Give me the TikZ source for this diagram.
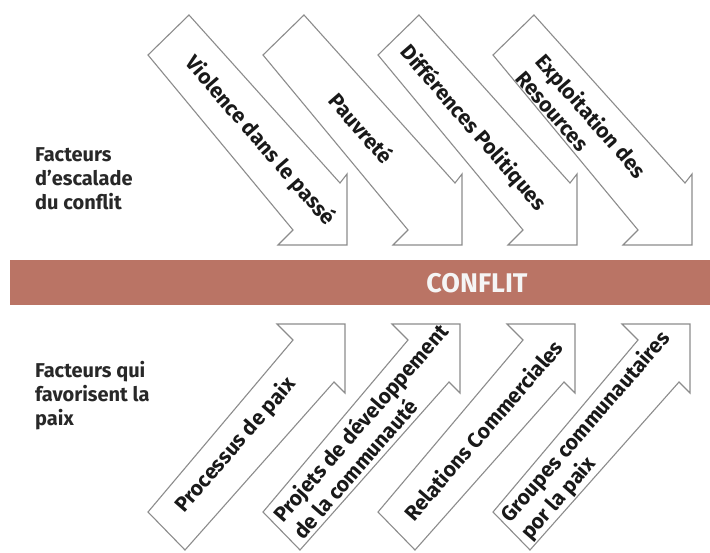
\documentclass[tikz,border=0pt]{standalone}
\usepackage{fontspec}
\setmainfont{Fira Sans}
\definecolor{conflitband}{RGB}{186,116,101}
\definecolor{arrowline}{RGB}{140,140,140}
\definecolor{labeltext}{RGB}{40,40,40}

\tikzset{
  factor outline/.style={draw=arrowline, fill=white, line width=1.1pt, line join=miter},
  escalade arrow/.pic={\path[factor outline] (0,0) -- (-69,0) -- (-54,-15) -- (-199,-190) -- (-158,-230) -- (-7,-62) -- (0,-71) -- cycle;},
  paix arrow/.pic={\path[factor outline] (0,0) -- (-68,0) -- (-52,16) -- (-197,188) -- (-160,226) -- (-11,58) -- (0,69) -- cycle;},
  factor text/.style={font=\bfseries\fontsize{21}{26}\selectfont, text=black!90, inner sep=0pt, align=left},
  escalade text/.style={factor text, rotate=-49},
  paix text/.style={factor text, rotate=49},
  side label/.style={font=\bfseries\fontsize{20}{24}\selectfont, text=labeltext, anchor=north west, align=left, inner sep=0pt},
  conflit band/.style={fill=conflitband, draw=none, anchor=north west, minimum width=700pt, minimum height=45pt, inner sep=0pt},
  conflit label/.style={font=\bfseries\fontsize{27}{30}\selectfont, text=white!96!black},
}

\begin{document}
\begin{tikzpicture}[x=1pt, y=-1pt]
    \useasboundingbox[fill=white] (0,0) rectangle (710,552);
    \node (band) [conflit band] at (10,260) {};
    \node (conflit) [conflit label] at (477,283) {CONFLIT};

    \node (escalade) [side label] at (35,147) {Facteurs\\d'escalade\\du conflit};
    \node (paix) [side label] at (35,361) {Facteurs qui\\favorisent la\\paix};

    % facteurs d'escalade
    \pic at (347,245) {escalade arrow};
    \pic at (462,245) {escalade arrow};
    \pic at (577,245) {escalade arrow};
    \pic at (692,245) {escalade arrow};
    \node (violence) [escalade text] at (260,141) {Violence dans le passé};
    \node (pauvrete) [escalade text] at (362,128) {Pauvreté};
    \node (politiques) [escalade text] at (473,128) {Différences Politiques};
    \node (resources) [escalade text] at (582,124) {Exploitation des\\Resources};

    % facteurs de paix
    \pic at (345,324) {paix arrow};
    \pic at (460,324) {paix arrow};
    \pic at (575,324) {paix arrow};
    \pic at (690,324) {paix arrow};
    \node (processus) [paix text] at (236,445) {Processus de paix};
    \node (projets) [paix text] at (370,431) {Projets de développement\\de la communauté};
    \node (relations) [paix text] at (483,430) {Relations Commerciales};
    \node (groupes) [paix text] at (596,436) {Groupes communautaires\\por la paix};
  \end{tikzpicture}
\end{document}
